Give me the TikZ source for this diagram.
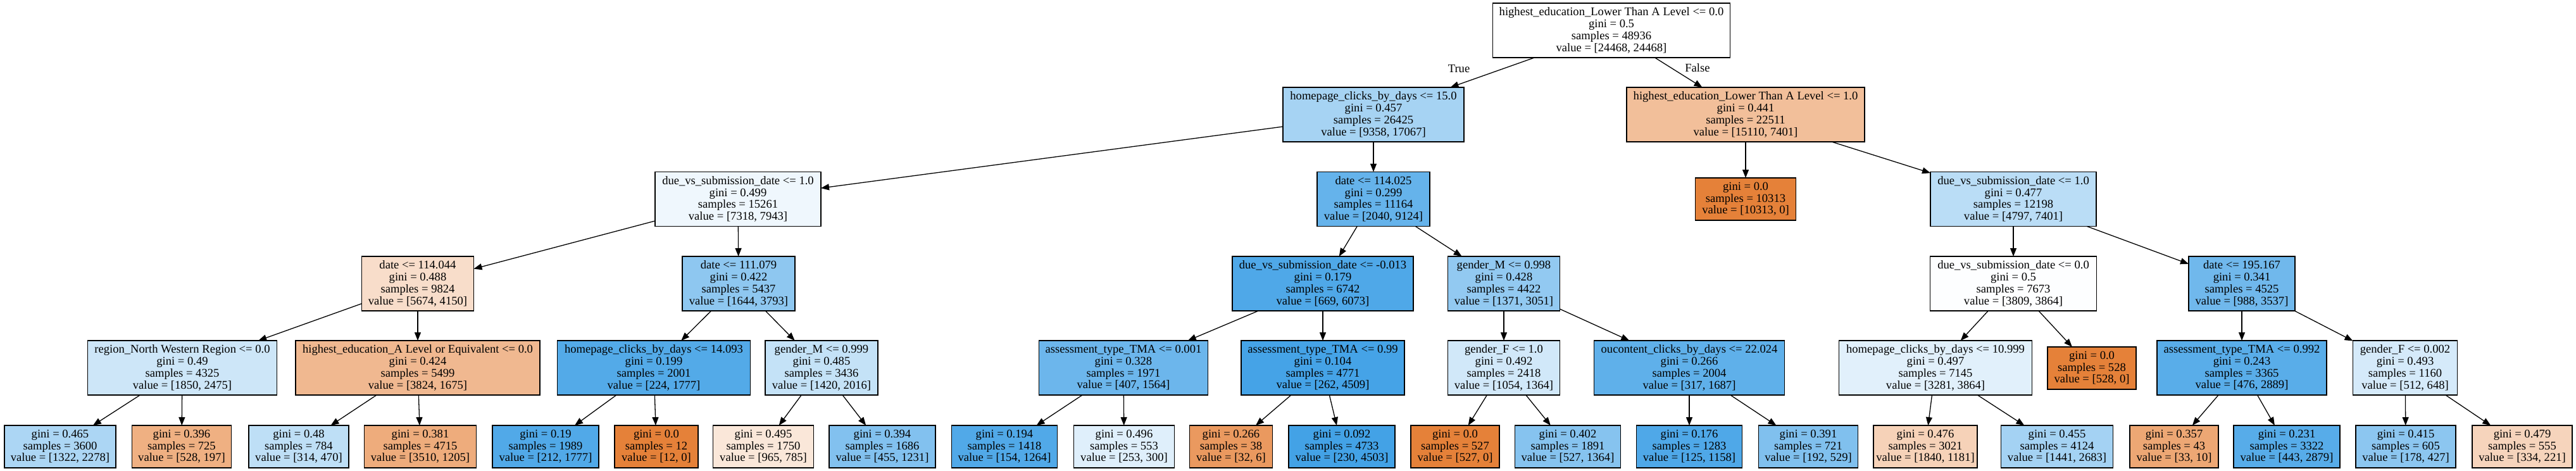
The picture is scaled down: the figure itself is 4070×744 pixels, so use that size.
\documentclass[tikz,border=0pt]{standalone}
\usepackage{fontspec}
\setmainfont{Liberation Serif}
\usetikzlibrary{arrows.meta}
\definecolor{cO}{RGB}{229,129,57}
\definecolor{cB}{RGB}{57,157,229}
\begin{document}
\begin{tikzpicture}[x=0.5pt,y=-0.5pt,
  box/.style={draw=black,line width=0.7pt,rectangle,inner sep=0pt,outer sep=0pt,
    align=center,font=\fontsize{9.3}{9.35}\selectfont,minimum height=43pt},
  leaf/.style={box,minimum height=33.5pt},
  bw/.style={minimum width=#1*0.5pt},
  O/.style={fill=cO!#1!white},
  B/.style={fill=cB!#1!white},
  arr/.style={line width=0.65pt,-{Triangle[length=6.5pt,width=5pt]}},
  lbl/.style={font=\fontsize{9.3}{9.35}\selectfont,inner sep=0pt}
]
\useasboundingbox (0,0) rectangle (4070,744);
% level 0
\node[box,bw=375,fill=white] (r) at (2546,48) {highest\_education\_Lower Than A Level <= 0.0\\gini = 0.5\\samples = 48936\\value = [24468, 24468]};
% level 1
\node[box,bw=286,B=45] (n1) at (2170,181) {homepage\_clicks\_by\_days <= 15.0\\gini = 0.457\\samples = 26425\\value = [9358, 17067]};
\node[box,bw=376,O=51] (n2) at (2758,181) {highest\_education\_Lower Than A Level <= 1.0\\gini = 0.441\\samples = 22511\\value = [15110, 7401]};
% level 2
\node[box,bw=262,B=8] (n3) at (1166,314.5) {due\_vs\_submission\_date <= 1.0\\gini = 0.499\\samples = 15261\\value = [7318, 7943]};
\node[box,bw=178,B=78] (n4) at (2170,314.5) {date <= 114.025\\gini = 0.299\\samples = 11164\\value = [2040, 9124]};
\node[leaf,bw=159,O=100] (n5) at (2758,314.5) {gini = 0.0\\samples = 10313\\value = [10313, 0]};
\node[box,bw=262,B=35] (n6) at (3181,314.5) {due\_vs\_submission\_date <= 1.0\\gini = 0.477\\samples = 12198\\value = [4797, 7401]};
% level 3
\node[box,bw=177,O=27] (n7) at (660,448) {date <= 114.044\\gini = 0.488\\samples = 9824\\value = [5674, 4150]};
\node[box,bw=178,B=57] (n8) at (1167,448) {date <= 111.079\\gini = 0.422\\samples = 5437\\value = [1644, 3793]};
\node[box,bw=286,B=89] (n9) at (2090,448) {due\_vs\_submission\_date <= -0.013\\gini = 0.179\\samples = 6742\\value = [669, 6073]};
\node[box,bw=177,B=55] (n10) at (2376,448) {gender\_M <= 0.998\\gini = 0.428\\samples = 4422\\value = [1371, 3051]};
\node[box,bw=263,B=1] (n11) at (3181,448) {due\_vs\_submission\_date <= 0.0\\gini = 0.5\\samples = 7673\\value = [3809, 3864]};
\node[box,bw=168,B=72] (n12) at (3542,448) {date <= 195.167\\gini = 0.341\\samples = 4525\\value = [988, 3537]};
% level 4
\node[box,bw=299,B=25] (n13) at (288,581) {region\_North Western Region <= 0.0\\gini = 0.49\\samples = 4325\\value = [1850, 2475]};
\node[box,bw=386,O=56] (n14) at (660,581) {highest\_education\_A Level or Equivalent <= 0.0\\gini = 0.424\\samples = 5499\\value = [3824, 1675]};
\node[box,bw=305,B=87] (n15) at (1033,581) {homepage\_clicks\_by\_days <= 14.093\\gini = 0.199\\samples = 2001\\value = [224, 1777]};
\node[box,bw=178,B=30] (n16) at (1298,581) {gender\_M <= 0.999\\gini = 0.485\\samples = 3436\\value = [1420, 2016]};
\node[box,bw=267,B=74] (n17) at (1775,581) {assessment\_type\_TMA <= 0.001\\gini = 0.328\\samples = 1971\\value = [407, 1564]};
\node[box,bw=258,B=94] (n18) at (2090,581) {assessment\_type\_TMA <= 0.99\\gini = 0.104\\samples = 4771\\value = [262, 4509]};
\node[box,bw=177,B=23] (n19) at (2376,581) {gender\_F <= 1.0\\gini = 0.492\\samples = 2418\\value = [1054, 1364]};
\node[box,bw=301,B=81] (n20) at (2669,581) {oucontent\_clicks\_by\_days <= 22.024\\gini = 0.266\\samples = 2004\\value = [317, 1687]};
\node[box,bw=305,B=15] (n21) at (3058,581) {homepage\_clicks\_by\_days <= 10.999\\gini = 0.497\\samples = 7145\\value = [3281, 3864]};
\node[leaf,bw=140,O=100] (n22) at (3305,581.5) {gini = 0.0\\samples = 528\\value = [528, 0]};
\node[box,bw=268,B=84] (n23) at (3542,581) {assessment\_type\_TMA <= 0.992\\gini = 0.243\\samples = 3365\\value = [476, 2889]};
\node[box,bw=165,B=21] (n24) at (3800,581) {gender\_F <= 0.002\\gini = 0.493\\samples = 1160\\value = [512, 648]};
% level 5
\node[leaf,bw=176,B=42] (l1) at (95,705.5) {gini = 0.465\\samples = 3600\\value = [1322, 2278]};
\node[leaf,bw=157,O=63] (l2) at (287,705.5) {gini = 0.396\\samples = 725\\value = [528, 197]};
\node[leaf,bw=158,B=33] (l3) at (472,705.5) {gini = 0.48\\samples = 784\\value = [314, 470]};
\node[leaf,bw=177,O=66] (l4) at (664,705.5) {gini = 0.381\\samples = 4715\\value = [3510, 1205]};
\node[leaf,bw=168,B=88] (l5) at (862,705.5) {gini = 0.19\\samples = 1989\\value = [212, 1777]};
\node[leaf,bw=132,O=100] (l6) at (1037,705.5) {gini = 0.0\\samples = 12\\value = [12, 0]};
\node[leaf,bw=159,O=19] (l7) at (1206,705.5) {gini = 0.495\\samples = 1750\\value = [965, 785]};
\node[leaf,bw=168,B=63] (l8) at (1394,705.5) {gini = 0.394\\samples = 1686\\value = [455, 1231]};
\node[leaf,bw=167,B=88] (l9) at (1587,705.5) {gini = 0.194\\samples = 1418\\value = [154, 1264]};
\node[leaf,bw=159,B=16] (l10) at (1776,705.5) {gini = 0.496\\samples = 553\\value = [253, 300]};
\node[leaf,bw=131,O=81] (l11) at (1945,705.5) {gini = 0.266\\samples = 38\\value = [32, 6]};
\node[leaf,bw=168,B=95] (l12) at (2120,705.5) {gini = 0.092\\samples = 4733\\value = [230, 4503]};
\node[leaf,bw=140,O=100] (l13) at (2299,705.5) {gini = 0.0\\samples = 527\\value = [527, 0]};
\node[leaf,bw=167,B=61] (l14) at (2477,705.5) {gini = 0.402\\samples = 1891\\value = [527, 1364]};
\node[leaf,bw=167,B=89] (l15) at (2669,705.5) {gini = 0.176\\samples = 1283\\value = [125, 1158]};
\node[leaf,bw=157,B=64] (l16) at (2857,705.5) {gini = 0.391\\samples = 721\\value = [192, 529]};
\node[leaf,bw=164,O=36] (l17) at (3042,705.5) {gini = 0.476\\samples = 3021\\value = [1840, 1181]};
\node[leaf,bw=177,B=46] (l18) at (3250,705.5) {gini = 0.455\\samples = 4124\\value = [1441, 2683]};
\node[leaf,bw=140,O=70] (l19) at (3435,705.5) {gini = 0.357\\samples = 43\\value = [33, 10]};
\node[leaf,bw=168,B=85] (l20) at (3613,705.5) {gini = 0.231\\samples = 3322\\value = [443, 2879]};
\node[leaf,bw=158,B=58] (l21) at (3801,705.5) {gini = 0.415\\samples = 605\\value = [178, 427]};
\node[leaf,bw=158,O=34] (l22) at (3985,705.5) {gini = 0.479\\samples = 555\\value = [334, 221]};
% labels
\node[lbl] (tl) at (2305,109) {True};
\node[lbl] (fl) at (2682,107) {False};
% edges
\draw[arr] (r) -- (n1);
\draw[arr] (r) -- (n2);
\draw[arr] (n1) -- (n3);
\draw[arr] (n1) -- (n4);
\draw[arr] (n2) -- (n5);
\draw[arr] (n2) -- (n6);
\draw[arr] (n3) -- (n7);
\draw[arr] (n3) -- (n8);
\draw[arr] (n4) -- (n9);
\draw[arr] (n4) -- (n10);
\draw[arr] (n6) -- (n11);
\draw[arr] (n6) -- (n12);
\draw[arr] (n7) -- (n13);
\draw[arr] (n7) -- (n14);
\draw[arr] (n8) -- (n15);
\draw[arr] (n8) -- (n16);
\draw[arr] (n9) -- (n17);
\draw[arr] (n9) -- (n18);
\draw[arr] (n10) -- (n19);
\draw[arr] (n10) -- (n20);
\draw[arr] (n11) -- (n21);
\draw[arr] (n11) -- (n22);
\draw[arr] (n12) -- (n23);
\draw[arr] (n12) -- (n24);
\draw[arr] (n13) -- (l1);
\draw[arr] (n13) -- (l2);
\draw[arr] (n14) -- (l3);
\draw[arr] (n14) -- (l4);
\draw[arr] (n15) -- (l5);
\draw[arr] (n15) -- (l6);
\draw[arr] (n16) -- (l7);
\draw[arr] (n16) -- (l8);
\draw[arr] (n17) -- (l9);
\draw[arr] (n17) -- (l10);
\draw[arr] (n18) -- (l11);
\draw[arr] (n18) -- (l12);
\draw[arr] (n19) -- (l13);
\draw[arr] (n19) -- (l14);
\draw[arr] (n20) -- (l15);
\draw[arr] (n20) -- (l16);
\draw[arr] (n21) -- (l17);
\draw[arr] (n21) -- (l18);
\draw[arr] (n23) -- (l19);
\draw[arr] (n23) -- (l20);
\draw[arr] (n24) -- (l21);
\draw[arr] (n24) -- (l22);
\end{tikzpicture}
\end{document}
